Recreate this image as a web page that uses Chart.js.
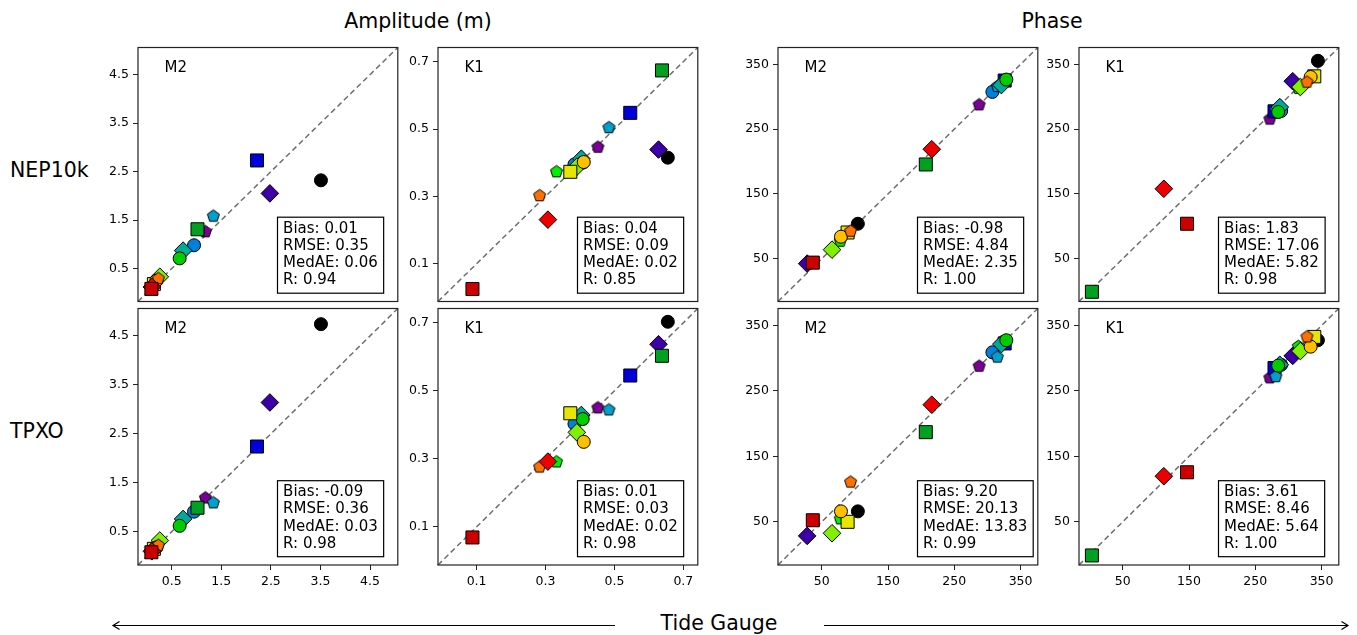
<!DOCTYPE html>
<html>
<head>
<meta charset="utf-8">
<title>NEP10k and TPXO vs tide gauges</title>
<script src="https://cdn.jsdelivr.net/npm/chart.js@4.4.0/dist/chart.umd.min.js"></script>
<style>
  html, body { margin: 0; padding: 0; background: #fff; }
  #fig { position: relative; width: 1357px; height: 635px; overflow: hidden; font-family: "DejaVu Sans", sans-serif; color: #000; }
  #fig canvas { position: absolute; }
  .big { position: absolute; font-size: 20.5px; line-height: 1; white-space: nowrap; }
  .mid { transform: translate(-50%, -50%); }
  .vmid { transform: translate(0, -50%); }
</style>
</head>
<body>
<div id="fig">
  <div class="big mid" style="left:418px; top:21px">Amplitude (m)</div>
  <div class="big mid" style="left:1052px; top:21px">Phase</div>
  <div class="big vmid" style="left:10px; top:170px">NEP10k</div>
  <div class="big vmid" style="left:10px; top:431px">TPXO</div>
  <div class="big mid" style="left:719px; top:623px">Tide Gauge</div>
  <svg width="1357" height="635" style="position:absolute; left:0; top:0">
    <g stroke="#000" stroke-width="1.2" fill="none">
      <line x1="615" y1="625.5" x2="113" y2="625.5"/>
      <polyline points="119.5,621.5 113,625.5 119.5,629.5"/>
      <line x1="824" y1="625.5" x2="1348" y2="625.5"/>
      <polyline points="1341.5,621.5 1348,625.5 1341.5,629.5"/>
    </g>
  </svg>
</div>
<script>
const FONT = '"DejaVu Sans", sans-serif';

// Station styles, in plotting order (later ones sit on top)
const COLORS = ['#000000', '#7a0096', '#3d00a8', '#0000dd', '#0080dd', '#00a0cc', '#00aa99', '#00a020',
                '#00cc00', '#00ee00', '#80f000', '#e6e600', '#ffc000', '#ff7000', '#ee0000', '#cc0000'];
const SHAPES = ['circle', 'pentagon', 'diamond', 'square', 'circle', 'pentagon', 'diamond', 'square',
                'circle', 'pentagon', 'diamond', 'square', 'circle', 'pentagon', 'diamond', 'square'];

// M2 amplitude (m)
const m2AmpGauge = [3.51, 1.18, 2.48, 2.22, 0.95, 1.34, 0.73, 1.02, 0.66, 0.17, 0.26, 0.14, 0.19, 0.23, 0.10, 0.09];
const m2AmpNep   = [2.32, 1.26, 2.05, 2.73, 0.98, 1.58, 0.87, 1.31, 0.71, 0.22, 0.33, 0.18, 0.25, 0.29, 0.12, 0.08];
const m2AmpTpxo  = [4.74, 1.19, 3.14, 2.24, 0.91, 1.09, 0.76, 0.99, 0.62, 0.19, 0.32, 0.15, 0.18, 0.22, 0.10, 0.08];

// K1 amplitude (m)
const k1AmpGauge = [0.655, 0.452, 0.628, 0.546, 0.384, 0.484, 0.404, 0.638, 0.408, 0.332, 0.391, 0.372, 0.411, 0.283, 0.307, 0.088];
const k1AmpNep   = [0.415, 0.446, 0.439, 0.548, 0.395, 0.504, 0.412, 0.674, 0.400, 0.373, 0.388, 0.373, 0.402, 0.302, 0.231, 0.025];
const k1AmpTpxo  = [0.703, 0.450, 0.637, 0.545, 0.403, 0.444, 0.429, 0.603, 0.417, 0.291, 0.378, 0.434, 0.350, 0.276, 0.292, 0.069];

// M2 phase (deg)
const m2PhGauge = [104.5, 287.5, 28, 326, 307.5, 315, 321, 207, 328.5, 78, 65.5, 89, 79, 93.5, 216, 36.5];
const m2PhNep   = [104, 287.5, 42.5, 325, 307.5, 316, 318, 195.5, 326.5, 77, 64, 90.5, 84, 92.5, 219, 44];
const m2PhTpxo  = [66, 287.8, 28.5, 322.6, 309, 301.7, 321.6, 187, 327.5, 54.5, 32.5, 50, 66, 110.7, 229, 52.4];

// K1 phase (deg)
const k1PhGauge = [344.5, 272, 306.5, 279, 289, 281, 287, 3.5, 284.5, 315, 318, 339, 333.5, 328, 112, 147];
const k1PhNep   = [355.5, 265.5, 324, 277.5, 278, 280, 284, -1, 276.5, 313, 315, 331.5, 330.5, 322.5, 158, 104];
const k1PhTpxo  = [327.5, 270, 303.6, 285, 290, 271.8, 290, -1.4, 288.7, 318, 311, 332.6, 317.7, 332.6, 119.7, 125.7];

// Axis ranges and ticks
const AMP_M2_LIM = [-0.18, 5.06];
const AMP_K1_LIM = [-0.012, 0.742];
const PHASE_LIM = [-16, 376];
const AMP_M2_TICKS = [0.5, 1.5, 2.5, 3.5, 4.5];
const AMP_K1_TICKS = [0.1, 0.3, 0.5, 0.7];
const PHASE_TICKS = [50, 150, 250, 350];

// Error statistics printed in each panel
const statsAmpM2Nep  = ['Bias: 0.01', 'RMSE: 0.35', 'MedAE: 0.06', 'R: 0.94'];
const statsAmpK1Nep  = ['Bias: 0.04', 'RMSE: 0.09', 'MedAE: 0.02', 'R: 0.85'];
const statsPhM2Nep   = ['Bias: -0.98', 'RMSE: 4.84', 'MedAE: 2.35', 'R: 1.00'];
const statsPhK1Nep   = ['Bias: 1.83', 'RMSE: 17.06', 'MedAE: 5.82', 'R: 0.98'];
const statsAmpM2Tpxo = ['Bias: -0.09', 'RMSE: 0.36', 'MedAE: 0.03', 'R: 0.98'];
const statsAmpK1Tpxo = ['Bias: 0.01', 'RMSE: 0.03', 'MedAE: 0.02', 'R: 0.98'];
const statsPhM2Tpxo  = ['Bias: 9.20', 'RMSE: 20.13', 'MedAE: 13.83', 'R: 0.99'];
const statsPhK1Tpxo  = ['Bias: 3.61', 'RMSE: 8.46', 'MedAE: 5.64', 'R: 1.00'];

// Panel layout
const COL_LEFT = [138, 438, 778, 1079];
const ROW_TOP = [44, 305];
const ROW_H = [261, 260];
const PANEL_W = 262;
const Y_AXIS_W = 45, PAD = 8, X_AXIS_H = 30;

const PANELS = [
  { col: 0, row: 0, label: 'M2', gauge: m2AmpGauge, model: m2AmpNep,  lim: AMP_M2_LIM, ticks: AMP_M2_TICKS, dec: 1, stats: statsAmpM2Nep },
  { col: 1, row: 0, label: 'K1', gauge: k1AmpGauge, model: k1AmpNep,  lim: AMP_K1_LIM, ticks: AMP_K1_TICKS, dec: 1, stats: statsAmpK1Nep },
  { col: 2, row: 0, label: 'M2', gauge: m2PhGauge,  model: m2PhNep,   lim: PHASE_LIM,  ticks: PHASE_TICKS,  dec: 0, stats: statsPhM2Nep },
  { col: 3, row: 0, label: 'K1', gauge: k1PhGauge,  model: k1PhNep,   lim: PHASE_LIM,  ticks: PHASE_TICKS,  dec: 0, stats: statsPhK1Nep },
  { col: 0, row: 1, label: 'M2', gauge: m2AmpGauge, model: m2AmpTpxo, lim: AMP_M2_LIM, ticks: AMP_M2_TICKS, dec: 1, stats: statsAmpM2Tpxo },
  { col: 1, row: 1, label: 'K1', gauge: k1AmpGauge, model: k1AmpTpxo, lim: AMP_K1_LIM, ticks: AMP_K1_TICKS, dec: 1, stats: statsAmpK1Tpxo },
  { col: 2, row: 1, label: 'M2', gauge: m2PhGauge,  model: m2PhTpxo,  lim: PHASE_LIM,  ticks: PHASE_TICKS,  dec: 0, stats: statsPhM2Tpxo },
  { col: 3, row: 1, label: 'K1', gauge: k1PhGauge,  model: k1PhTpxo,  lim: PHASE_LIM,  ticks: PHASE_TICKS,  dec: 0, stats: statsPhK1Tpxo },
];

// Chart.js has no pentagon marker, so draw one on a small canvas
function pentagonMarker(fill, r) {
  const size = Math.ceil(2 * r + 4);
  const c = document.createElement('canvas');
  c.width = size; c.height = size;
  const g = c.getContext('2d');
  g.beginPath();
  for (let i = 0; i < 5; i++) {
    const a = -Math.PI / 2 + i * 2 * Math.PI / 5;
    g.lineTo(size / 2 + r * Math.cos(a), size / 2 + r * Math.sin(a));
  }
  g.closePath();
  g.fillStyle = fill; g.fill();
  g.lineWidth = 1; g.strokeStyle = '#000'; g.stroke();
  return c;
}

const pointStyles = SHAPES.map((s, i) =>
  s === 'pentagon' ? pentagonMarker(COLORS[i], 6.3) : s === 'diamond' ? 'rectRot' : s === 'square' ? 'rect' : 'circle');
const pointRadii = SHAPES.map(s => ({ circle: 6.5, square: 9.2, diamond: 8.8, pentagon: 6.3 })[s]);

// Frame, 1:1 line, constituent name and stats box
const panelDecor = {
  id: 'panelDecor',
  beforeDatasetsDraw(chart) {
    const { ctx, scales: { x, y } } = chart;
    ctx.save();
    ctx.strokeStyle = '#6e6e6e';
    ctx.lineWidth = 1.5;
    ctx.setLineDash([5.5, 3.5]);
    ctx.beginPath();
    ctx.moveTo(x.getPixelForValue(x.min), y.getPixelForValue(y.min));
    ctx.lineTo(x.getPixelForValue(x.max), y.getPixelForValue(y.max));
    ctx.stroke();
    ctx.restore();
  },
  afterDraw(chart, args, opts) {
    const { ctx, chartArea: a } = chart;
    ctx.save();
    ctx.strokeStyle = '#222';
    ctx.lineWidth = 1.2;
    ctx.strokeRect(a.left, a.top, a.right - a.left, a.bottom - a.top);

    ctx.fillStyle = '#000';
    ctx.font = '15px ' + FONT;
    ctx.textBaseline = 'middle';
    ctx.fillText(opts.label, a.left + 26.5, a.top + 21);

    let w = 0;
    opts.stats.forEach(t => { w = Math.max(w, ctx.measureText(t).width); });
    const bx = a.left + 139.5, bh = 76, by = a.bottom - 8.3 - bh, bw = w + 11.5;
    ctx.fillStyle = '#fff';
    ctx.fillRect(bx, by, bw, bh);
    ctx.strokeStyle = '#000';
    ctx.lineWidth = 1.2;
    ctx.strokeRect(bx, by, bw, bh);
    ctx.fillStyle = '#000';
    opts.stats.forEach((t, i) => ctx.fillText(t, bx + 5.6, by + 11.5 + i * 17.3));
    ctx.restore();
  }
};

const fig = document.getElementById('fig');

PANELS.forEach(p => {
  const bottom = p.row === 1;
  const h = ROW_H[p.row];
  const canvas = document.createElement('canvas');
  canvas.width = Y_AXIS_W + PANEL_W + PAD;
  canvas.height = PAD + h + (bottom ? X_AXIS_H : PAD);
  canvas.style.left = (COL_LEFT[p.col] - Y_AXIS_W) + 'px';
  canvas.style.top = (ROW_TOP[p.row] - PAD) + 'px';
  fig.appendChild(canvas);

  const tickCfg = {
    font: { family: FONT, size: 12.5 },
    color: '#000',
    padding: 4,
    autoSkip: false,
    maxRotation: 0,
    callback: v => Number(v).toFixed(p.dec)
  };
  const gridCfg = { drawOnChartArea: false, drawTicks: true, tickLength: 5, color: '#222', lineWidth: 1 };

  new Chart(canvas.getContext('2d'), {
    type: 'scatter',
    data: {
      datasets: [{
        data: p.gauge.map((g, i) => ({ x: g, y: p.model[i] })),
        pointStyle: pointStyles,
        pointRadius: pointRadii,
        pointHoverRadius: pointRadii,
        pointBackgroundColor: COLORS,
        pointBorderColor: '#000',
        pointBorderWidth: 1,
        showLine: false
      }]
    },
    options: {
      responsive: false,
      animation: false,
      events: [],
      layout: { padding: { top: PAD, right: PAD, left: 0, bottom: bottom ? 0 : PAD } },
      plugins: {
        legend: { display: false },
        tooltip: { enabled: false },
        panelDecor: { label: p.label, stats: p.stats }
      },
      scales: {
        x: {
          type: 'linear', min: p.lim[0], max: p.lim[1],
          display: bottom,
          afterBuildTicks: s => { s.ticks = p.ticks.map(v => ({ value: v })); },
          afterFit: s => { s.height = bottom ? X_AXIS_H : 0; },
          grid: gridCfg,
          border: { display: false },
          ticks: tickCfg
        },
        y: {
          type: 'linear', min: p.lim[0], max: p.lim[1],
          afterBuildTicks: s => { s.ticks = p.ticks.map(v => ({ value: v })); },
          afterFit: s => { s.width = Y_AXIS_W; },
          grid: gridCfg,
          border: { display: false },
          ticks: tickCfg
        }
      }
    },
    plugins: [panelDecor]
  });
});
</script>
</body>
</html>
